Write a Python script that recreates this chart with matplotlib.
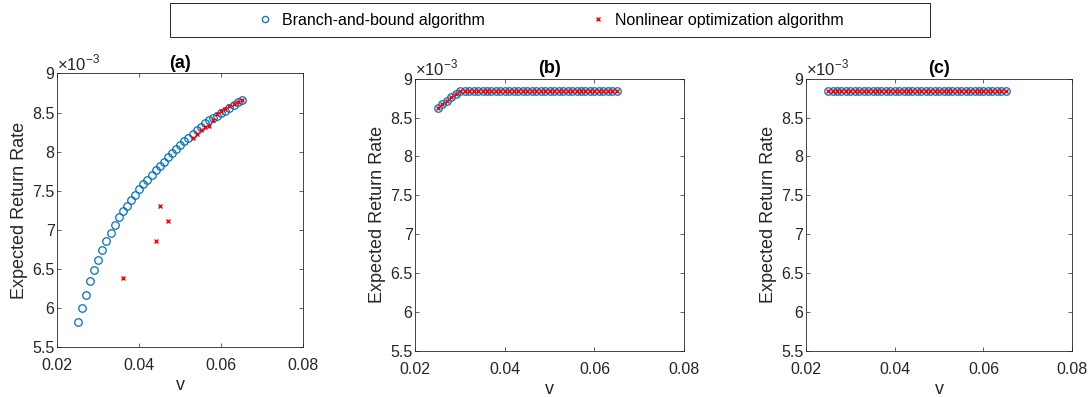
import numpy as np
import matplotlib.pyplot as plt
from matplotlib.ticker import FuncFormatter
from matplotlib.lines import Line2D
from matplotlib.patches import Rectangle

plt.rcParams['font.family'] = ['Liberation Sans', 'DejaVu Sans']
plt.rcParams['mathtext.fontset'] = 'custom'
plt.rcParams['mathtext.rm'] = 'Liberation Sans'
plt.rcParams['axes.unicode_minus'] = False

# v-Werte (gemeinsam fuer alle drei Panels)
v = [0.025 + 0.001 * i for i in range(41)]

# (a) Branch-and-bound, Werte in 1e-3
bb_a = [5.82, 6.00, 6.17, 6.34, 6.48, 6.61, 6.74, 6.85, 6.96, 7.06,
        7.16, 7.24, 7.31, 7.38, 7.45, 7.52, 7.58, 7.64, 7.70, 7.76,
        7.82, 7.87, 7.93, 7.98, 8.03, 8.08, 8.13, 8.18, 8.23, 8.28,
        8.32, 8.36, 8.40, 8.43, 8.46, 8.50, 8.52, 8.56, 8.60, 8.63, 8.66]
# (a) Nonlinear optimization
nl_a_v = [0.036, 0.044, 0.045, 0.047, 0.053, 0.054, 0.055, 0.056, 0.057,
          0.058, 0.059, 0.060, 0.061, 0.062, 0.063, 0.064, 0.065]
nl_a = [6.38, 6.86, 7.31, 7.11, 8.17, 8.22, 8.27, 8.31, 8.33,
        8.40, 8.48, 8.52, 8.55, 8.58, 8.61, 8.63, 8.66]

# (b)
bb_b = [8.617, 8.668, 8.715, 8.758, 8.80] + [8.845] * 36
nl_b = bb_b
# (c)
bb_c = [8.835] * 41
nl_c = bb_c

blue = '#0072BD'
red = '#FF0000'
dark = '#262626'

fig = plt.figure(figsize=(10.89, 3.97), dpi=100)
pos = [[0.0526, 0.126, 0.2259, 0.689],
       [0.3814, 0.1159, 0.2467, 0.686],
       [0.7401, 0.1159, 0.2445, 0.686]]
panels = [(v, bb_a, nl_a_v, nl_a, '(a)'),
          (v, bb_b, v, nl_b, '(b)'),
          (v, bb_c, v, nl_c, '(c)')]

yfmt = FuncFormatter(lambda y, _: '%g' % round(y * 1e3, 4))

for p, (x1, y1, x2, y2, t) in zip(pos, panels):
    ax = fig.add_axes(p)
    ax.plot(x1, np.array(y1) * 1e-3, 'o', ls='none', mfc='none', mec=blue,
            ms=5.4, mew=0.9)
    ax.plot(x2, np.array(y2) * 1e-3, 'x', ls='none', color=red, ms=3.5, mew=1.0)
    ax.set_xlim(0.02, 0.08)
    ax.set_ylim(5.5e-3, 9e-3)
    ax.set_xticks([0.02, 0.04, 0.06, 0.08])
    ax.set_yticks(np.arange(5.5, 9.01, 0.5) * 1e-3)
    ax.yaxis.set_major_formatter(yfmt)
    ax.xaxis.set_major_formatter(FuncFormatter(lambda x, _: '%.2f' % x))
    ax.tick_params(direction='in', top=True, right=True, length=3, width=0.5,
                   labelsize=11.5, colors=dark)
    ax.tick_params(axis='x', pad=8)
    ax.tick_params(axis='y', pad=2)
    for s in ax.spines.values():
        s.set_linewidth(0.6)
        s.set_color(dark)
    ax.text(0.0, 1.0, r'$\times10^{-3}$', transform=ax.transAxes, ha='left',
            va='bottom', fontsize=12, color=dark)
    ax.set_title(t, fontsize=13, fontweight='bold', color='black', pad=4)
    ax.set_xlabel('v', fontsize=13, color=dark, labelpad=3)
    ax.set_ylabel('Expected Return Rate', fontsize=13, color=dark, labelpad=3)

# Legende: Rahmen separat wie in MATLAB
fig.patches.append(Rectangle((170 / 1089, 1 - 37 / 397), 760 / 1089, 34 / 397,
                             transform=fig.transFigure, fill=False, ec=dark, lw=0.7))
handles = [Line2D([], [], marker='o', ls='none', mfc='none', mec=blue, ms=4.5, mew=0.9),
           Line2D([], [], marker='x', ls='none', color=red, ms=3.5, mew=1.0)]
leg = fig.legend(handles, ['Branch-and-bound algorithm', 'Nonlinear optimization algorithm'],
                 loc='center', bbox_to_anchor=(0.505, 0.9496), ncol=2, fontsize=11.5,
                 frameon=False, columnspacing=6.6,
                 handlelength=1.0, handletextpad=0.56, borderpad=0,
                 borderaxespad=0)
for txt in leg.get_texts():
    txt.set_color('black')

fig.savefig('out.png', dpi=100)
